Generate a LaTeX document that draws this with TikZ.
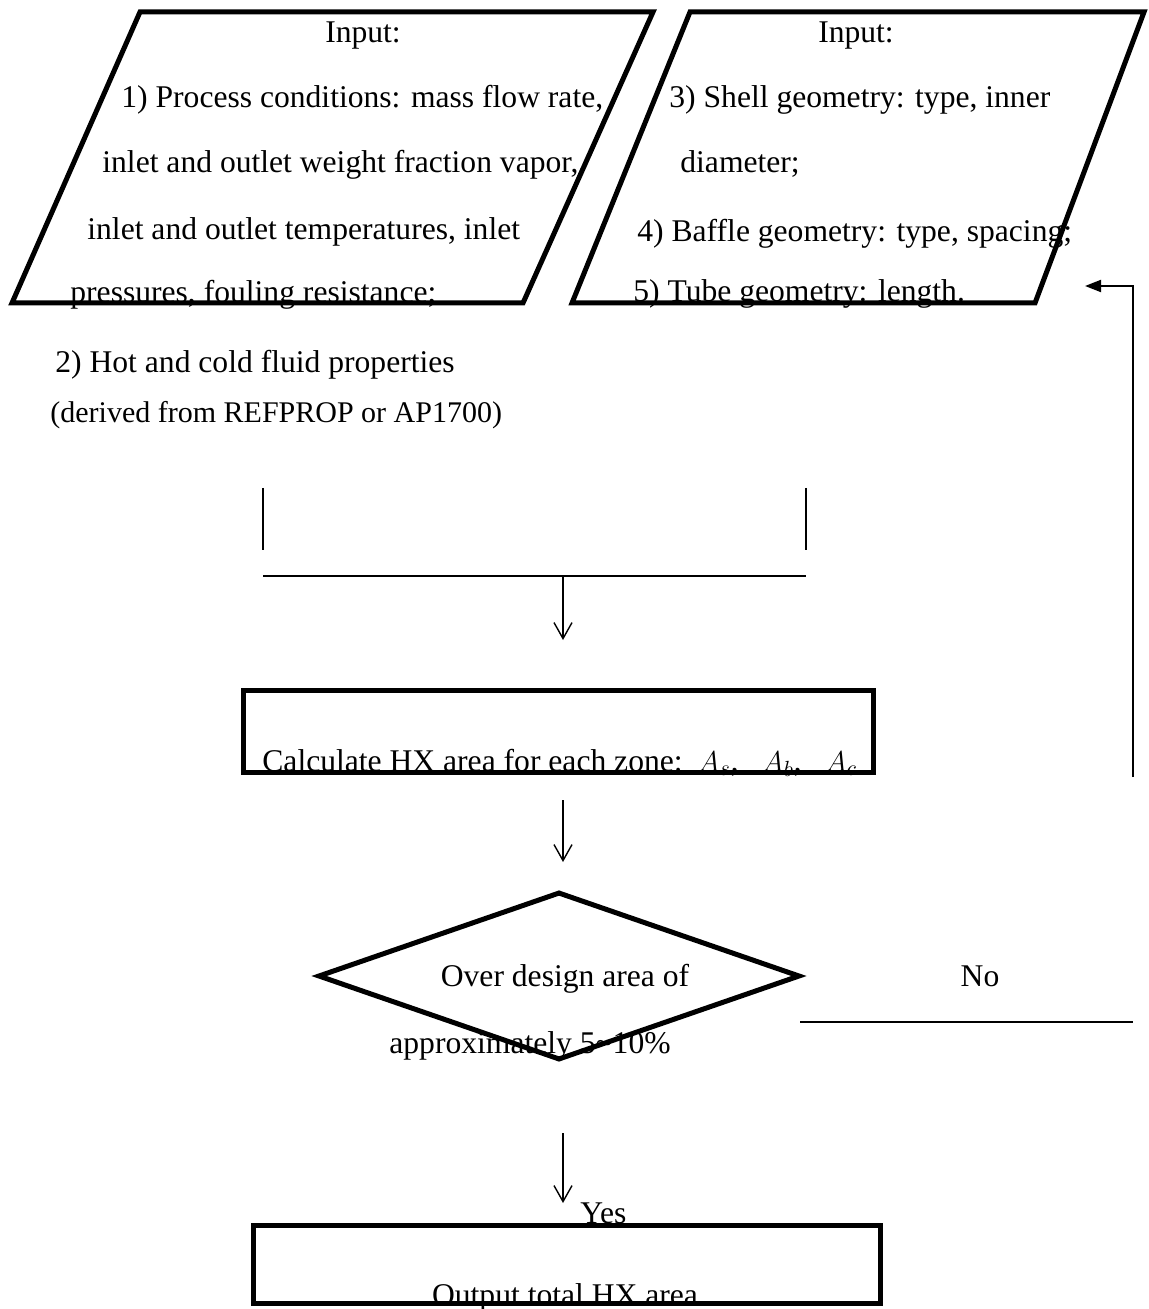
\documentclass[tikz,border=0pt]{standalone}
\usepackage{fontspec}
\setmainfont{Liberation Serif}
\usetikzlibrary{arrows.meta,shapes.geometric}

\begin{document}
\begin{tikzpicture}[x=0.5pt,y=-0.5pt,
	boxline/.style={line width=2.5pt},
	thinline/.style={line width=1pt},
	txt/.style={font=\fontsize{15.8}{19}\selectfont,inner sep=0pt},
	procbox/.style={draw,boxline,rectangle,inner sep=0pt},
	decision/.style={draw,boxline,diamond,inner sep=0pt},
	flowarrow/.style={line width=0.7pt,-{Straight Barb[length=8pt,width=9pt]}},
	backarrow/.style={line width=1pt,-{Triangle[length=8pt,width=6pt]}}]
	\useasboundingbox (0,0) rectangle (1148,1309);

	% input blocks
	\draw[boxline] (140,12) -- (653,12) -- (523,303) -- (12,303) -- cycle;
	\draw[boxline] (690,12) -- (1144,12) -- (1035,303) -- (572,303) -- cycle;

	\node[txt,anchor=base] (inA) at (363,43) {Input:};
	\node[txt,anchor=base west] (inA1) at (121,108) {1) Process conditions: mass flow rate,};
	\node[txt,anchor=base west] (inA2) at (102,173) {inlet and outlet weight fraction vapor,};
	\node[txt,anchor=base west] (inA3) at (87,240) {inlet and outlet temperatures, inlet};
	\node[txt,anchor=base west] (inA4) at (70,303) {pressures, fouling resistance;};
	\node[txt,anchor=base west] (inA5) at (55,373) {2) Hot and cold fluid properties};
	\node[txt,anchor=base west,font=\fontsize{15}{18}\selectfont] (inA6) at (50,423) {(derived from REFPROP or AP1700)};

	\node[txt,anchor=base] (inB) at (856,43) {Input:};
	\node[txt,anchor=base west] (inB1) at (669,108) {3) Shell geometry: type, inner};
	\node[txt,anchor=base west] (inB2) at (680,173) {diameter;};
	\node[txt,anchor=base west] (inB3) at (637,242) {4) Baffle geometry: type, spacing;};
	\node[txt,anchor=base west] (inB4) at (633,302) {5) Tube geometry: length.};

	% collecting lines
	\coordinate (colL) at (263,488);
	\coordinate (colLb) at (263,550);
	\coordinate (colR) at (806,488);
	\coordinate (colRb) at (806,550);
	\coordinate (barL) at (263,576);
	\coordinate (barR) at (806,576);
	\coordinate (merge) at (563,576);
	\coordinate (calcIn) at (563,640);
	\draw[thinline] (colL) -- (colLb);
	\draw[thinline] (colR) -- (colRb);
	\draw[thinline] (barL) -- (barR);
	\draw[flowarrow] (merge) -- (calcIn);

	% area calculation
	\node[procbox,minimum width=315pt,minimum height=41pt] (calc) at (558,731) {};
	\node[txt,anchor=base west] (calcTxt) at (262,771) {Calculate HX area for each zone:\ \ $A_s$,\ \ \ $A_b$,\ \ \ $A_c$};
	\coordinate (calcOut) at (563,800);
	\coordinate (checkIn) at (563,862);
	\draw[flowarrow] (calcOut) -- (checkIn);

	% check
	\node[decision,minimum width=241pt,minimum height=84pt] (check) at (559,976) {};
	\node[txt,anchor=base] (checkTxt1) at (565,986) {Over design area of};
	\node[txt,anchor=base] (checkTxt2) at (530,1053) {approximately 5\textasciitilde10\%};
	\node[txt,anchor=base] (no) at (980,986) {No};
	\coordinate (noL) at (800,1022);
	\coordinate (noR) at (1133,1022);
	\draw[thinline] (noL) -- (noR);
	\coordinate (fbBot) at (1133,777);
	\coordinate (fbTip) at (1085,286);
	\draw[backarrow] (fbBot) |- (fbTip);

	% output
	\coordinate (yesOut) at (563,1133);
	\coordinate (outIn) at (563,1203);
	\draw[flowarrow] (yesOut) -- (outIn);
	\node[txt,anchor=base west] (yes) at (580,1223) {Yes};
	\node[procbox,minimum width=313.5pt,minimum height=39pt] (out) at (566.5,1264) {};
	\node[txt,anchor=base] (outTxt) at (565,1305) {Output total HX area};
\end{tikzpicture}
\end{document}
